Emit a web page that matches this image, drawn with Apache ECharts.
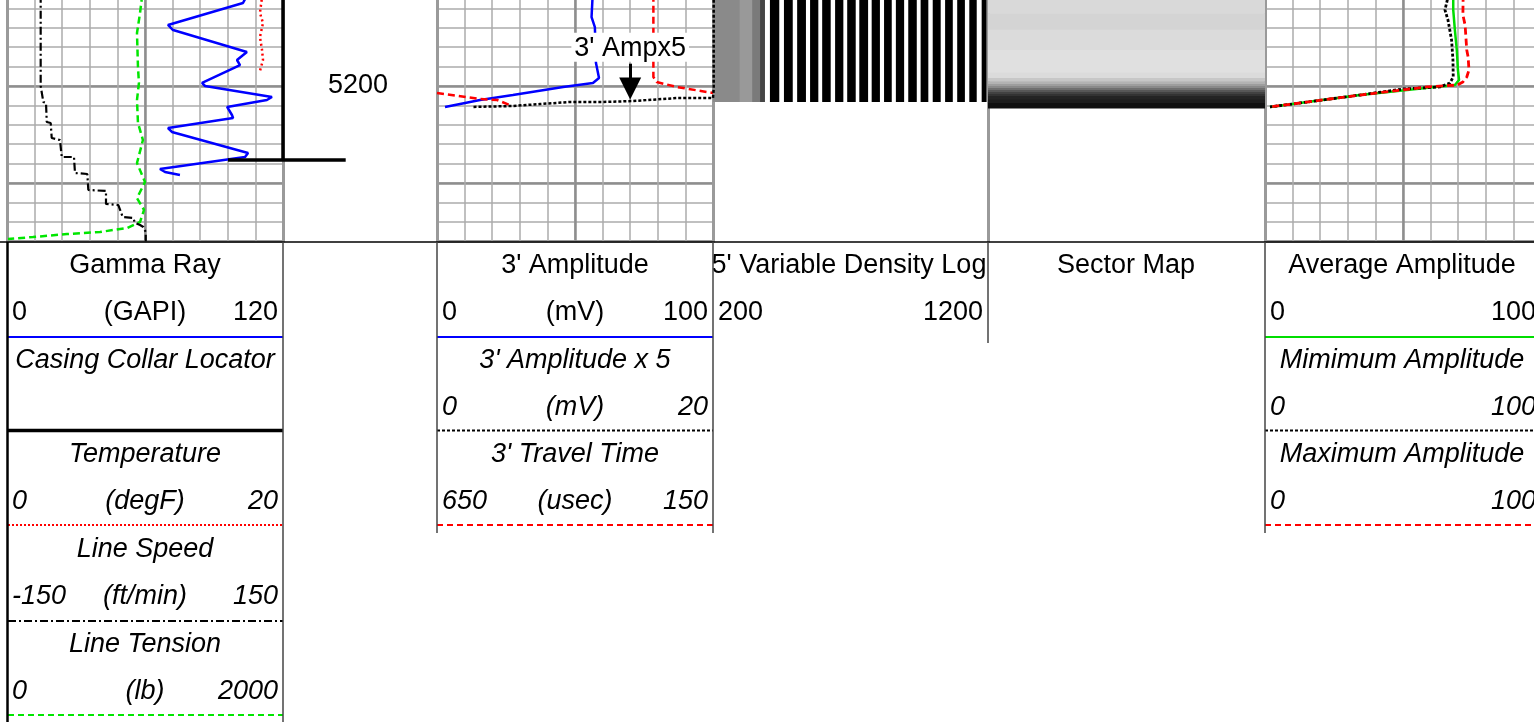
<!DOCTYPE html>
<html>
<head>
<meta charset="utf-8">
<script src="https://cdn.jsdelivr.net/npm/echarts@6/dist/echarts.min.js"></script>
<style>html,body{margin:0;padding:0;background:#fff;overflow:hidden}#c{width:1534px;height:725px}</style>
</head>
<body>
<div id="c"></div>
<script>
// ---------------- DATA ----------------
// depth window (ft)
const depthMin = 5190, depthMax = 5216;
const depthLabelStep = 100;

// Track 1
const grDepth = [5190.6,5191.44,5193.71,5194.23,5196.49,5197.32,5197.84,5199.69,5200.0,5201.13,5201.44,5202.16,5202.99,5203.30,5204.33,5204.74,5206.91,5207.32,5208.56,5208.87,5209.18];
const grValue = [104.5,102.6,70.0,72.2,104.3,100.0,101.3,84.8,86.1,115.2,113.0,95.7,97.8,98.3,70.0,71.7,104.8,103.5,66.5,68.7,75.2];

const tempDepth = [5190.6,5192.47,5193.50,5194.95,5196.29,5197.32,5198.45];
const tempValue = [18.5,18.33,18.55,18.33,18.48,18.55,18.33];

const speedDepth = [5190.6,5200.0,5201.65,5201.75,5203.71,5203.81,5205.36,5205.57,5207.32,5207.32,5208.97,5209.07,5210.72,5210.82,5212.16,5212.27,5213.51,5213.61,5214.12,5214.33,5214.54,5215.05,5216];
const speedValue = [-113.4,-113.4,-110.5,-107.6,-106.8,-102.5,-101.4,-92.4,-90.5,-77.2,-76.1,-62.7,-61.6,-42.4,-42.4,-29.0,-24.2,-12.7,-10.9,-5.4,-1.8,0.8,0.8];

const tensionDepth = [5190.6,5192.47,5194.54,5198.04,5199.69,5201.44,5203.81,5205.57,5207.94,5209.90,5211.55,5212.78,5214.02,5214.64,5215.05,5215.26,5215.57,5215.77];
const tensionValue = [980,964,942,949,956,942,949,985,942,1000,942,993,964,870,674,435,188,7];

const cclDepth = [5190,5207.63,5207.63,5207.63];
const cclValue = [0,0,-0.5,0.57];

// Track 2
const ampDepth = [5190.6,5192.89,5193.92,5197.63,5199.18,5199.69,5200.10,5200.93,5201.44,5202.16];
const ampValue = [56.4,56.0,57.2,57.6,58.7,56.5,45.7,27.5,15.6,2.9];

const ampx5Depth = [5190.6,5200.3,5201.24,5201.24,5201.55,5201.65,5201.65,5201.86,5202.06,5202.16];
const ampx5Value = [20.05,20.05,20,17.4,14.2,11.96,9.64,7.46,5.5,2.6];

const ttDepth = [5190.6,5199.07,5199.59,5200.10,5200.72];
const ttValue = [258,258,252,216,150];
const ttWrapDepth = [5200.72,5201.34,5201.44,5202.06];
const ttWrapValue = [650,572,541,514];

const annoText = "3' Ampx5";
const annoValue = 14;
const annoFromDepth = 5197.7;
const annoToDepth = 5200.25;

// VDL (usec windows and darkness 0..1)
const vdlTop = 5190, vdlBottom = 5201.65;
const vdlStart = [200,298,342,371,407,458,506,553,597,644,688,732,777,822,865,910,955,999,1044,1088,1132,1177];
const vdlEnd   = [298,342,371,389,441,490,538,583,628,674,719,764,807,850,895,941,983,1028,1072,1116,1159,1195];
const vdlLevel = [0.46,0.40,0.52,0.73,1,1,1,1,1,1,1,1,1,1,1,1,1,1,1,1,1,1];

// Sector map rows (depth bands and darkness 0..1)
const sectorTop    = [5190,5192.5,5194.2,5196.3,5198.6,5199.18,5199.5,5199.79,5200.0,5200.21,5200.42,5200.62,5200.83,5201.03,5201.4,5201.75];
const sectorBottom = [5192.5,5194.2,5196.3,5198.6,5199.18,5199.5,5199.79,5200.0,5200.21,5200.42,5200.62,5200.83,5201.03,5201.4,5201.75,5202.27];
const sectorLevel  = [0.15,0.17,0.14,0.12,0.14,0.22,0.30,0.38,0.46,0.56,0.66,0.74,0.80,0.86,0.89,0.94];

// Track 4
const avgDepth = [5190.6,5192.16,5194.23,5196.29,5198.35,5199.38,5199.90,5200.05,5200.93,5202.16];
const avgValue = [68.2,68.2,68.8,69.5,69.9,70.3,68.8,63.4,34.4,1.8];
const minDepth = [5190.6,5191.44,5192.16,5193.20,5195.26,5197.32,5199.07,5199.69,5200.10,5200.31,5200.93,5202.16];
const minValue = [66.5,65.8,65.2,66.3,67.6,68.1,68.2,67.0,63.4,50.0,34.4,1.8];
const maxDepth = [5190.6,5192.67,5193.71,5196.29,5197.01,5198.35,5199.07,5199.59,5199.90,5200.10,5200.93,5202.16];
const maxValue = [71.8,71.7,72.5,73.1,73.6,73.9,73.1,71.7,69.6,58.7,34.4,1.8];

// ---------------- CHART ----------------
const FONT = "'Liberation Sans', Arial, sans-serif";
const FS = 27;
const TOP = -11, H = 252.2;
const grids = [], xAxes = [], yAxes = [], series = [];

function addGrid(left, width) {
  grids.push({left: left, width: width, top: TOP, height: H, containLabel: false, outerBoundsMode: 'none'});
  return grids.length - 1;
}
function hiddenX(gi, min, max, inverse) { xAxes.push({type: 'value', gridIndex: gi, min: min, max: max, inverse: !!inverse, show: false}); return xAxes.length - 1; }
function hiddenY(gi) { yAxes.push({type: 'value', gridIndex: gi, min: depthMin, max: depthMax, inverse: true, show: false}); return yAxes.length - 1; }

function frame(left, width, withGrid) {
  const gi = addGrid(left, width);
  const off = {show: false};
  xAxes.push({type: 'value', gridIndex: gi, min: 0, max: 10, interval: 1, position: 'bottom', axisLine: off, axisTick: off, axisLabel: off,
    splitLine: {show: withGrid, lineStyle: {color: '#ababab', width: 1.5}}});
  xAxes.push({type: 'value', gridIndex: gi, min: 0, max: 10, interval: 5, position: 'top', axisLine: off, axisTick: off, axisLabel: off,
    splitLine: {show: withGrid, lineStyle: {color: '#8e8e8e', width: 2.5}}});
  yAxes.push({type: 'value', gridIndex: gi, min: depthMin, max: depthMax, interval: 2, inverse: true, position: 'left',
    axisLine: {show: true, onZero: false, lineStyle: {color: '#9a9a9a', width: 3}}, axisTick: off, axisLabel: off,
    splitLine: {show: withGrid, lineStyle: {color: '#ababab', width: 1.5}}});
  yAxes.push({type: 'value', gridIndex: gi, min: depthMin, max: depthMax, interval: 10, inverse: true, position: 'right',
    axisLine: {show: true, onZero: false, lineStyle: {color: '#9a9a9a', width: 3}}, axisTick: off, axisLabel: off,
    splitLine: {show: withGrid, lineStyle: {color: '#8e8e8e', width: 2.5}}});
}

function curve(left, width, min, max, depth, vals, lineStyle, opts) {
  opts = opts || {};
  const gi = addGrid(left, width);
  const xi = hiddenX(gi, min, max, opts.inverse);
  const yi = hiddenY(gi);
  const s = {type: 'line', xAxisIndex: xi, yAxisIndex: yi, data: vals.map((v, i) => [v, depth[i]]),
    symbol: 'none', showSymbol: false, lineStyle: lineStyle, clip: opts.clip !== false, silent: true, z: opts.z || 3};
  if (opts.markLine) s.markLine = opts.markLine;
  series.push(s);
}

function gray(v) { const c = Math.round(255 * (1 - v)); return 'rgb(' + c + ',' + c + ',' + c + ')'; }

// Track 1 frame + curves
frame(7, 276, true);
curve(7, 276, 0, 2000, tensionDepth, tensionValue, {color: '#00e600', width: 2.5, type: [7, 4]});
curve(7, 276, -150, 150, speedDepth, speedValue, {color: '#000', width: 2.2, type: [8, 3, 2, 3]});
curve(7, 276, 0, 20, tempDepth, tempValue, {color: '#ff0000', width: 2.5, type: [2, 3]});
curve(7, 276, 0, 120, grDepth, grValue, {color: '#0000ff', width: 2.5});
curve(173, 220, -1, 1, cclDepth, cclValue, {color: '#000', width: 3.5}, {clip: false, z: 4});

// Depth track
(function () {
  const gi = addGrid(283, 154);
  hiddenX(gi, 0, 1);
  yAxes.push({type: 'value', gridIndex: gi, min: depthMin, max: depthMax, interval: 10, inverse: true, position: 'left',
    axisLine: {show: false}, axisTick: {show: false}, splitLine: {show: false},
    axisLabel: {show: true, inside: true, margin: 45, color: '#000', fontSize: FS, fontFamily: FONT,
      formatter: v => (Math.round(v) % depthLabelStep === 0 ? String(Math.round(v)) : '')}});
})();

// Track 2
frame(437, 276, true);
curve(437, 276, 0, 100, ampDepth, ampValue, {color: '#0000ff', width: 2.5});
curve(437, 276, 150, 650, ttDepth, ttValue, {color: '#ff0000', width: 2.5, type: [7, 4]}, {inverse: true});
curve(437, 276, 150, 650, ttWrapDepth, ttWrapValue, {color: '#ff0000', width: 2.5, type: [7, 4]}, {inverse: true});
curve(437, 276, 0, 20, ampx5Depth, ampx5Value, {color: '#000', width: 2.5, type: [3, 2]}, {
  z: 5,
  markLine: {
    silent: true, animation: false, symbol: ['none', 'triangle'], symbolSize: 22,
    lineStyle: {color: '#000', width: 3, type: 'solid'},
    label: {show: true, position: 'start', distance: 2, formatter: annoText, color: '#000', fontSize: FS, fontFamily: FONT,
      backgroundColor: '#fff', padding: [2, 3, 0, 3]},
    data: [[{coord: [annoValue, annoFromDepth]}, {coord: [annoValue, annoToDepth]}]]
  }
});

// VDL track
frame(713, 275, false);
(function () {
  const gi = addGrid(713, 275);
  const xi = hiddenX(gi, 200, 1200);
  const yi = hiddenY(gi);
  series.push({type: 'custom', xAxisIndex: xi, yAxisIndex: yi, clip: true, silent: true, z: 2,
    data: vdlStart.map((t, i) => [t, vdlEnd[i], vdlLevel[i]]),
    renderItem: function (params, api) {
      const a = api.coord([api.value(0), vdlTop]);
      const b = api.coord([api.value(1), vdlBottom]);
      return {type: 'rect', shape: {x: a[0], y: a[1], width: b[0] - a[0], height: b[1] - a[1]}, style: {fill: gray(api.value(2))}};
    }});
})();

// Sector map
frame(988, 277, false);
(function () {
  const gi = addGrid(988, 277);
  const xi = hiddenX(gi, 0, 360);
  const yi = hiddenY(gi);
  series.push({type: 'custom', xAxisIndex: xi, yAxisIndex: yi, clip: true, silent: true, z: 2,
    data: sectorTop.map((d, i) => [d, sectorBottom[i], sectorLevel[i]]),
    renderItem: function (params, api) {
      const a = api.coord([0, api.value(0)]);
      const b = api.coord([360, api.value(1)]);
      return {type: 'rect', shape: {x: a[0], y: a[1], width: b[0] - a[0], height: b[1] - a[1] + 0.6}, style: {fill: gray(api.value(2))}};
    }});
})();

// Track 4
frame(1265, 276, true);
curve(1265, 276, 0, 100, avgDepth, avgValue, {color: '#00dd00', width: 2.5});
curve(1265, 276, 0, 100, minDepth, minValue, {color: '#000', width: 2.8, type: [3, 2]});
curve(1265, 276, 0, 100, maxDepth, maxValue, {color: '#ff0000', width: 2.8, type: [7, 4]});

// ---------------- HEADER ----------------
const G = [];
function txt(x, y, s, align, italic) {
  G.push({type: 'text', x: x, y: y, z: 10, silent: true,
    style: {text: s, fill: '#000', fontSize: FS, fontFamily: FONT, fontStyle: italic ? 'italic' : 'normal', align: align, verticalAlign: 'middle'}});
}
function ln(x1, y1, x2, y2, color, w, dash, z) {
  G.push({type: 'line', z: z || 12, silent: true, shape: {x1: x1, y1: y1, x2: x2, y2: y2}, style: {stroke: color, lineWidth: w, lineDash: dash || null}});
}
function scaleRow(l, r, y, a, b, c, italic) {
  txt(l + 5, y, a, 'left', italic);
  if (b) txt((l + r) / 2, y, b, 'center', italic);
  txt(r - 5, y, c, 'right', italic);
}
const R = [266, 313, 360, 407, 454, 501, 549, 596, 644, 691];

// Track 1 header
txt(145, R[0], 'Gamma Ray', 'center');
scaleRow(7, 283, R[1], '0', '(GAPI)', '120');
txt(145, R[2], 'Casing Collar Locator', 'center', true);
txt(145, R[4], 'Temperature', 'center', true);
scaleRow(7, 283, R[5], '0', '(degF)', '20', true);
txt(145, R[6], 'Line Speed', 'center', true);
scaleRow(7, 283, R[7], '-150', '(ft/min)', '150', true);
txt(145, R[8], 'Line Tension', 'center', true);
scaleRow(7, 283, R[9], '0', '(lb)', '2000', true);
ln(8, 337, 283, 337, '#0000ff', 2);
ln(7, 430.5, 283, 430.5, '#000', 3.5);
ln(8, 525, 283, 525, '#ff0000', 2, [2, 2]);
ln(8, 621, 283, 621, '#000', 2, [8, 3, 2, 3]);
ln(8, 715, 283, 715, '#00e600', 2, [6, 4]);

// Track 2 header
txt(575, R[0], "3' Amplitude", 'center');
scaleRow(437, 713, R[1], '0', '(mV)', '100');
txt(575, R[2], "3' Amplitude x 5", 'center', true);
scaleRow(437, 713, R[3], '0', '(mV)', '20', true);
txt(575, R[4], "3' Travel Time", 'center', true);
scaleRow(437, 713, R[5], '650', '(usec)', '150', true);
ln(437, 337, 713, 337, '#0000ff', 2);
ln(437, 430.5, 713, 430.5, '#000', 2, [3, 2]);
ln(437, 525, 713, 525, '#ff0000', 2, [6, 4]);

// VDL header
txt(849, R[0], "5' Variable Density Log", 'center');
G.push({type: 'rect', z: 11, silent: true, shape: {x: 698, y: 250, width: 14.5, height: 34}, style: {fill: '#fff'}});
scaleRow(713, 988, R[1], '200', '', '1200');

// Sector header
txt(1126, R[0], 'Sector Map', 'center');

// Track 4 header
txt(1402, R[0], 'Average Amplitude', 'center');
scaleRow(1265, 1541, R[1], '0', '', '100');
txt(1402, R[2], 'Mimimum Amplitude', 'center', true);
scaleRow(1265, 1541, R[3], '0', '', '100', true);
txt(1402, R[4], 'Maximum Amplitude', 'center', true);
scaleRow(1265, 1541, R[5], '0', '', '100', true);
ln(1265, 337, 1534, 337, '#00dd00', 2);
ln(1265, 430.5, 1534, 430.5, '#000', 2, [3, 2]);
ln(1265, 525, 1534, 525, '#ff0000', 2, [6, 4]);

// header frame
ln(0, 242, 1534, 242, '#000', 1.5);
ln(7.5, 242, 7.5, 722, '#000', 2.5);
ln(283, 242, 283, 722, '#444', 1.5);
ln(437, 242, 437, 533, '#444', 1.5);
ln(713, 242, 713, 533, '#444', 1.5);
ln(988, 242, 988, 343, '#444', 1.5);
ln(1265, 242, 1265, 533, '#444', 1.5);

const chart = echarts.init(document.getElementById('c'), null, {renderer: 'canvas'});
chart.setOption({
  animation: false,
  backgroundColor: '#fff',
  grid: grids,
  xAxis: xAxes,
  yAxis: yAxes,
  series: series,
  graphic: G
});
</script>
</body>
</html>
